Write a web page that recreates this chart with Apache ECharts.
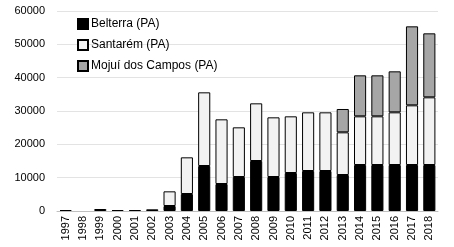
<!DOCTYPE html>
<html lang="pt">
<head>
    <meta charset="UTF-8">
    <title>Belterra / Santarém / Mojuí dos Campos</title>
    <style>
        html, body { margin: 0; padding: 0; background: #fff; }
        #chart { width: 454px; height: 247px; }
    </style>
    <script src="https://cdn.jsdelivr.net/npm/echarts@6/dist/echarts.min.js"></script>
</head>
<body>
    <div id="chart"></div>
    <script>
        // anos
        var years = ['1997','1998','1999','2000','2001','2002','2003','2004','2005','2006','2007',
                     '2008','2009','2010','2011','2012','2013','2014','2015','2016','2017','2018'];

        // valores
        var belterra = [300, 0, 0, 300, 300, 500, 1500, 5100, 13500, 8100, 10200,
                        15000, 10200, 11400, 12000, 12000, 10800, 13800, 13800, 13800, 13800, 13800];
        var santarem = [0, 0, 600, 0, 0, 0, 4400, 11000, 22100, 19400, 14900,
                        17300, 17900, 17000, 17600, 17600, 12800, 14600, 14600, 15800, 17900, 20300];
        var mojui = [0, 0, 0, 0, 0, 0, 0, 0, 0, 0, 0,
                     0, 0, 0, 0, 0, 7000, 12300, 12300, 12300, 23700, 19200];

        var yTicks = [0, 10000, 20000, 30000, 40000, 50000, 60000];

        var chart = echarts.init(document.getElementById('chart'));

        function serie(name, data, color) {
            return {
                name: name,
                type: 'bar',
                stack: 'total',
                // zero segments are not drawn (no border line)
                data: data.map(function (v) { return v === 0 ? null : v; }),
                barCategoryGap: '30%',
                itemStyle: { color: color, borderColor: '#000', borderWidth: 1 }
            };
        }

        var option = {
            animation: false,
            textStyle: { fontFamily: 'Liberation Sans' },
            grid: { left: 57, right: 16, top: 11, bottom: 36 },
            legend: {
                orient: 'vertical',
                left: 72,
                top: 13,
                itemWidth: 10,
                itemHeight: 10,
                itemGap: 9,
                icon: 'rect',
                textStyle: { fontSize: 12, color: '#000', padding: [0, 0, 0, -2] },
                data: ['Belterra (PA)', 'Santarém (PA)', 'Mojuí dos Campos (PA)']
            },
            xAxis: {
                type: 'category',
                data: years,
                axisLine: { lineStyle: { color: '#bfbfbf' } },
                axisTick: { show: false },
                axisLabel: { rotate: 90, fontSize: 11, color: '#000', margin: 5, interval: 0 }
            },
            yAxis: {
                type: 'value',
                min: yTicks[0],
                max: yTicks[yTicks.length - 1],
                interval: 10000,
                axisLine: { show: false },
                axisTick: { show: false },
                axisLabel: {
                    fontSize: 11, color: '#000', margin: 12,
                    formatter: function (v) { return String(v); }
                },
                splitLine: { lineStyle: { color: '#e3e3e3' } }
            },
            series: [
                serie('Belterra (PA)', belterra, '#000000'),
                serie('Santarém (PA)', santarem, '#f2f2f2'),
                serie('Mojuí dos Campos (PA)', mojui, '#a6a6a6')
            ]
        };

        chart.setOption(option);
    </script>
</body>
</html>
